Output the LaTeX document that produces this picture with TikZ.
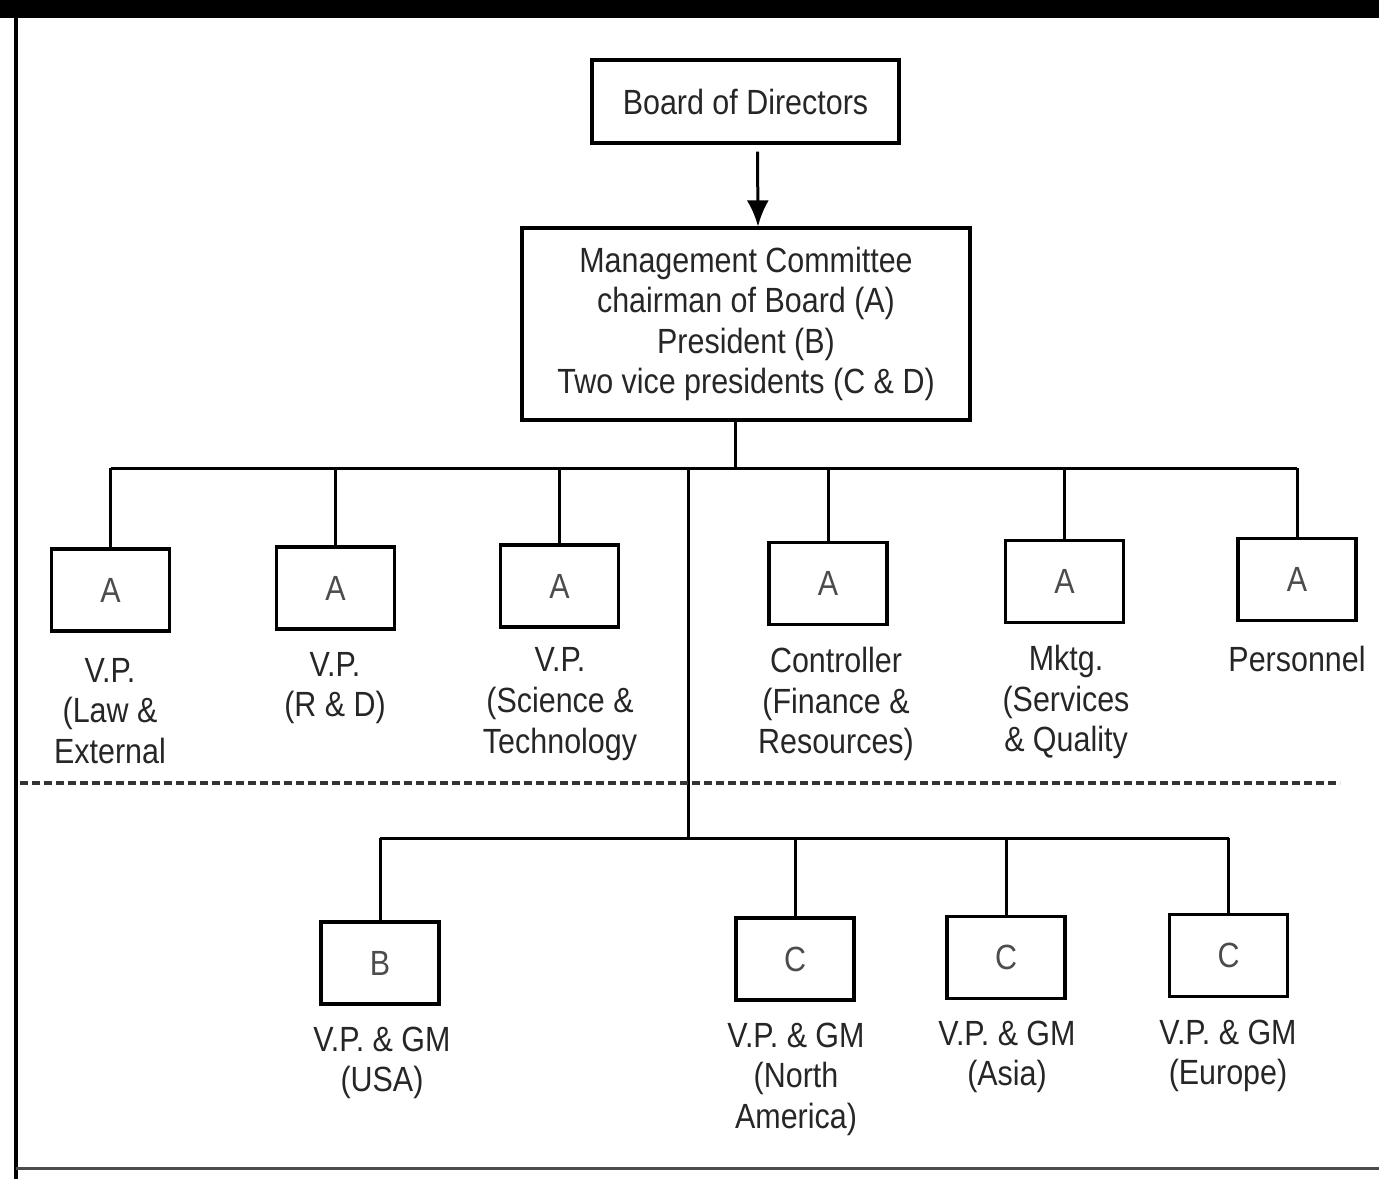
\documentclass[tikz,border=0pt]{standalone}
\usepackage{fontspec}
\setmainfont[FakeStretch=0.87]{Liberation Sans}
\usepackage{tikz}
\usetikzlibrary{arrows.meta}

\begin{document}
\begin{tikzpicture}[x=0.5pt, y=-0.5pt, text=black!85,
	every node/.style={font=\fontsize{17.5}{20.3}\selectfont},
	orgbox/.style={draw, line width=1.6pt, inner sep=0pt, align=center},
	postbox/.style={orgbox, minimum width=59pt, minimum height=41pt, text=black!70},
	caption/.style={align=center, inner sep=0pt},
	link/.style={line width=1.5pt}]
	\useasboundingbox (0,0) rectangle (1379,1179);
	\fill (0,0) rectangle (1379,18);
	\draw[line width=2pt] (16,0) -- (16,1179);
	\draw[line width=1.5pt, black!70] (16,1168) -- (1379,1168);
	\node[orgbox, minimum width=153.5pt, minimum height=41.5pt] (bod) at (745.5,101.5) {Board of Directors};
	\node[orgbox, minimum width=224pt, minimum height=96pt] (mc) at (746,324) {Management Committee\\chairman of Board (A)\\President (B)\\Two vice presidents (C \& D)};
	\node[postbox] (a1) at (110.5,590) {A};
	\node[postbox] (a2) at (335.5,588) {A};
	\node[postbox] (a3) at (559.5,586) {A};
	\node[postbox] (a4) at (828,583.5) {A};
	\node[postbox] (a5) at (1064.5,581.5) {A};
	\node[postbox] (a6) at (1297,579.5) {A};
	\node[caption] (l1) at (110,711) {V.P.\\(Law \&\\External};
	\node[caption] (l2) at (335,688) {V.P.\\(R \& D)};
	\node[caption] (l3) at (560,704) {V.P.\\(Science \&\\Technology};
	\node[caption] (l4) at (836,704) {Controller\\(Finance \&\\Resources)};
	\node[caption] (l5) at (1066,702) {Mktg.\\(Services\\\& Quality};
	\node[caption] (l6) at (1297,659) {Personnel};
	\node[postbox] (b1) at (380,963) {B};
	\node[postbox] (c1) at (795,959) {C};
	\node[postbox] (c2) at (1006,957.5) {C};
	\node[postbox] (c3) at (1228.5,955.5) {C};
	\node[caption] (m1) at (382,1063) {V.P. \& GM\\(USA)};
	\node[caption] (m2) at (796,1079) {V.P. \& GM\\(North\\America)};
	\node[caption] (m3) at (1007,1057) {V.P. \& GM\\(Asia)};
	\node[caption] (m4) at (1228,1056) {V.P. \& GM\\(Europe)};
	\coordinate (hub) at (688,468);
	\coordinate (hublow) at (688,838);
	\draw[link, -{Latex[length=13pt, width=11pt]}] ([xshift=6pt, yshift=-3.5pt]bod.south) -- ([xshift=6pt]mc.north);
	\draw[link] ([xshift=-5.5pt]mc.south) -- ([xshift=-5.5pt]mc.south |- hub);
	\draw[link] (a1.north |- hub) -- (a6.north |- hub);
	\foreach \i in {1,...,6}
		\draw[link] (a\i.north) -- (a\i.north |- hub);
	\draw[link] (hub) -- (hublow);
	\draw[link] (b1.north |- hublow) -- (c3.north |- hublow);
	\foreach \n in {b1,c1,c2,c3}
		\draw[link] (\n.north) -- (\n.north |- hublow);
	\draw[line width=1.8pt, black!80, dash pattern=on 4pt off 2pt] (20,783) -- (1340,783);
\end{tikzpicture}
\end{document}
